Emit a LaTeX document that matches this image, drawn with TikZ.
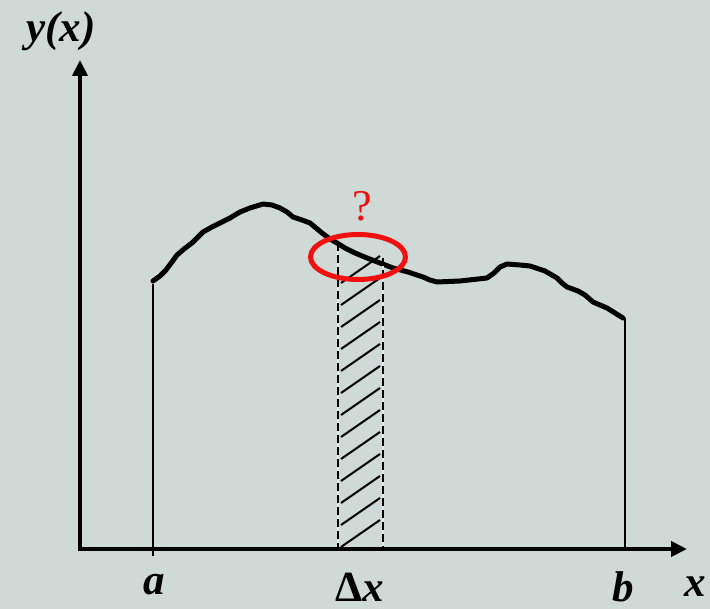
\documentclass[tikz,border=0pt]{standalone}
\usepackage{fontspec}
\setmainfont{Liberation Serif}
\usetikzlibrary{arrows.meta}
\definecolor{cBg}  {RGB}{207,217,213}
\definecolor{cRing}{RGB}{240, 16, 16}
\definecolor{cGap} {RGB}{222,234,240}

\begin{document}
\begin{tikzpicture}[
  x=1pt, y=-1pt,
  %% thick axis with filled head
  axis/.style={
    -{Triangle[length=16pt,width=15pt]}, line width=4.5pt
  },
  %% the wobbly y(x) curve
  curve/.style={
    line width=5pt, line join=round, line cap=round
  },
  %% thin bound lines at a and b
  bound/.style={line width=2pt},
  %% strip edges: light line under a dashed one
  edgegap/.style={line width=1.6pt, color=cGap},
  edgedash/.style={
    line width=2pt, dashed, dash pattern=on 8pt off 4pt
  },
  hatch/.style={line width=2pt},
  lbl/.style={
    font=\fontsize{43}{48}\selectfont\bfseries\itshape, anchor=base,
    inner sep=0pt
  },
]

%% ── Geometry ─────────────────────────────────────────────────────────────────
\def\xO{80}        % y-axis position
\def\yO{549}       % x-axis position
\def\xA{153}       % a
\def\xB{625}       % b
\def\xL{338}       % strip, left edge
\def\xR{383}       % strip, right edge

%% ── Background / frame ──────────────────────────────────────────────────────
\fill[cBg] (0,0) rectangle (710,609);
\useasboundingbox (0,0) rectangle (710,609);

%% ── Axes ────────────────────────────────────────────────────────────────────
\coordinate (O)    at (\xO,\yO+2);
\coordinate (Ox)   at (\xO-2,\yO);
\coordinate (ytip) at (\xO,60);
\coordinate (xtip) at (687,\yO);
\draw[axis] (O) -- (ytip);
\draw[axis] (Ox) -- (xtip);

%% ── Curve y(x) ──────────────────────────────────────────────────────────────
\draw[curve] plot coordinates {
  (153,281) (160,276) (166,270) (172,262) (177,255) (184,249) (192,243)
  (198,237) (203,232) (212,227) (220,223) (230,218) (240,212) (250,208)
  (263,204) (272,205) (280,208) (287,212) (293,217) (302,220) (310,223)
  (316,228) (322,233) (330,239) (337,243) (345,248) (355,253) (367,258)
  (380,263) (393,268) (408,272) (423,277) (430,280) (437,282) (460,281)
  (487,278) (494,273) (500,267) (507,264) (520,265) (530,266) (545,271)
  (557,278) (562,283) (567,287) (578,291) (585,295) (593,302) (607,308)
  (615,313) (623,318)
};

%% ── Bounds a and b ──────────────────────────────────────────────────────────
\coordinate (Atop) at (\xA,284);
\coordinate (Abot) at (\xA,556);
\coordinate (Btop) at (\xB,318);
\coordinate (Bbot) at (\xB,\yO);
\draw[bound] (Atop) -- (Abot);
\draw[bound] (Btop) -- (Bbot);

%% ── Strip of width Delta x ──────────────────────────────────────────────────
\coordinate (Ltop) at (\xL,243);
\coordinate (Lbot) at (\xL,\yO);
\coordinate (Rtop) at (\xR,258);
\coordinate (Rbot) at (\xR,\yO);
\draw[edgegap]  (Ltop) -- (Lbot);
\draw[edgegap]  (Rtop) -- (Rbot);
\draw[edgedash] (Ltop) -- (Lbot);
\draw[edgedash] (Rtop) -- (Rbot);

%% hatching, lower left to upper right
\foreach \i in {0,...,12}{
  \draw[hatch] (\xL+3,283+22*\i) -- (\xR-3,256+22*\i);
}

%% ── Ring and question mark ──────────────────────────────────────────────────
\draw[cRing, line width=5pt] (358,257) ellipse [x radius=47.5, y radius=22.5];
\node[lbl, font=\fontsize{44}{48}\selectfont, text=cRing] (qmark) at (362,221) {?};

%% ── Labels ──────────────────────────────────────────────────────────────────
\node[lbl] (ylabel)  at (61,42)  {y(x)};
\node[lbl] (xlabel)  at (695,596) {x};
\node[lbl] (alabel)  at (154,594) {a};
\node[lbl] (blabel)  at (623,601) {b};
\node[lbl] (dxlabel) at (360,601) {{\upshape Δ}x};

\end{tikzpicture}
\end{document}
